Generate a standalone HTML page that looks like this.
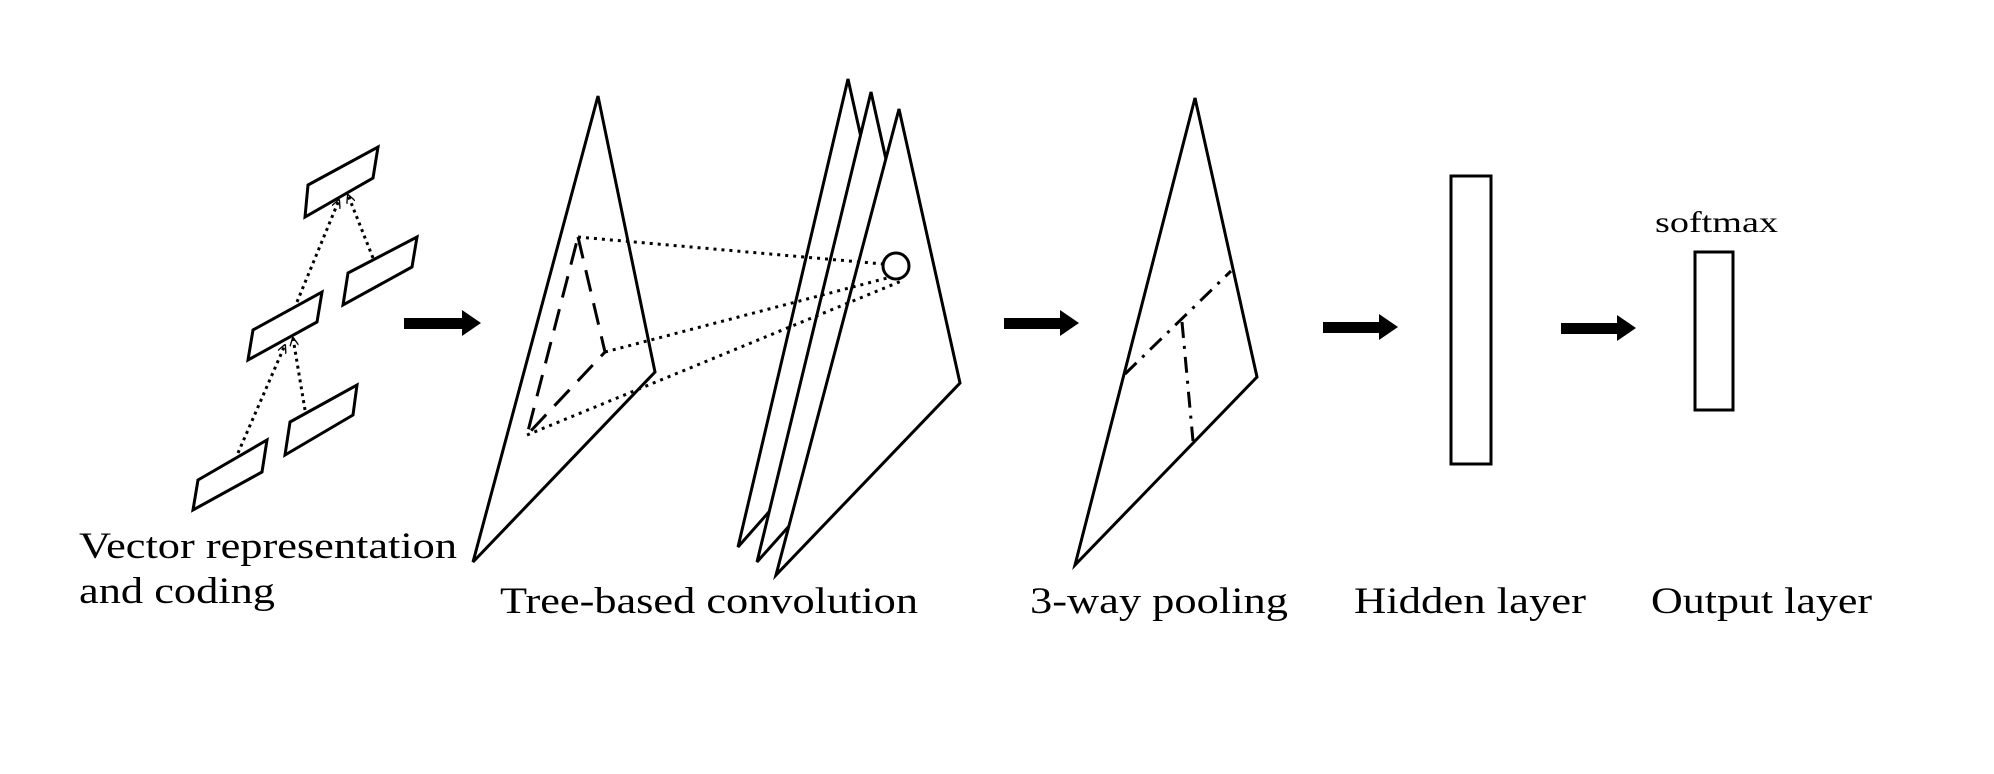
<!DOCTYPE html>
<html><head><style>html,body{margin:0;padding:0;background:#fff;}svg{display:block}</style></head>
<body>
<svg width="1994" height="774" viewBox="0 0 1994 774" xmlns="http://www.w3.org/2000/svg">
<defs>
<marker id="ah" viewBox="0 0 10 10" refX="9" refY="5" markerWidth="9" markerHeight="9" orient="auto" markerUnits="userSpaceOnUse">
<path d="M0,0 L10,5 L0,10" fill="none" stroke="#000" stroke-width="1.5"/>
</marker>
</defs>
<g fill="#fff" stroke="#000" stroke-width="3" stroke-linejoin="miter">
<polygon points="308,185 378,147 373,178 305,217"/>
<polygon points="348,273 417,237 412,267 343,305"/>
<polygon points="253,330 322,292 317,322 248,360"/>
<polygon points="290,422 357,385 353,415 285,455"/>
<polygon points="198,480 267,440 262,472 193,510"/>
</g>
<g stroke="#000" stroke-width="3" stroke-dasharray="3,4" fill="none" marker-end="url(#ah)">
<line x1="238" y1="453" x2="285" y2="345"/>
<line x1="305" y1="410" x2="293" y2="338"/>
<line x1="297" y1="302" x2="339" y2="200"/>
<line x1="373" y1="258" x2="348" y2="195"/>
</g>
<g fill="#000">
<rect x="404" y="318" width="59" height="11"/><polygon points="462,310 481,323 462,336"/>
</g>
<polygon points="598,96 655,372 473,562" fill="none" stroke="#000" stroke-width="3"/>
<polyline points="578,237 605,352 527,435 578,237" fill="none" stroke="#000" stroke-width="3" stroke-dasharray="22,12"/>
<g transform="translate(-6,0)">
<g fill="#000">
<rect x="1010" y="318" width="57" height="11"/><polygon points="1066,310 1085,323 1066,336"/>
<rect x="1329" y="322" width="57" height="11"/><polygon points="1385,314 1404,327 1385,340"/>
<rect x="1567" y="323" width="57" height="11"/><polygon points="1623,315 1642,328 1623,341"/>
</g>
<g fill="#fff" stroke="#000" stroke-width="3">
<polygon points="854,79 915,353 744,547"/>
<polygon points="877,92 938,366 763,562"/>
<polygon points="905,109 966,383 782,575"/>
</g>
</g>
<g stroke="#000" stroke-width="3" stroke-dasharray="3,5" fill="none">
<line x1="578" y1="237" x2="883" y2="264"/>
<line x1="605" y1="352" x2="891" y2="277"/>
<line x1="527" y1="435" x2="904" y2="280"/>
</g>
<g transform="translate(-6,0)">
<circle cx="902" cy="266" r="13" fill="#fff" stroke="#000" stroke-width="3"/>
<polygon points="1201,98 1263,377 1081,565" fill="none" stroke="#000" stroke-width="3"/>
<g stroke="#000" stroke-width="3" stroke-dasharray="16,8,3,8" fill="none">
<line x1="1131" y1="374" x2="1237" y2="271"/>
<line x1="1188" y1="322" x2="1199" y2="441"/>
</g>
<rect x="1457" y="176" width="40" height="288" fill="none" stroke="#000" stroke-width="3"/>
<rect x="1701" y="252" width="38" height="158" fill="none" stroke="#000" stroke-width="3"/>
</g>
<g font-family="Liberation Serif, serif" font-size="37" fill="#000">
<text x="1655" y="232" font-size="30" textLength="123" lengthAdjust="spacingAndGlyphs">softmax</text>
<text x="79" y="558" textLength="378" lengthAdjust="spacingAndGlyphs">Vector representation</text>
<text x="79" y="603" textLength="196" lengthAdjust="spacingAndGlyphs">and coding</text>
<text x="500" y="613" textLength="418" lengthAdjust="spacingAndGlyphs">Tree-based convolution</text>
<text x="1030" y="613" textLength="258" lengthAdjust="spacingAndGlyphs">3-way pooling</text>
<text x="1354" y="613" textLength="232" lengthAdjust="spacingAndGlyphs">Hidden layer</text>
<text x="1651" y="613" textLength="221" lengthAdjust="spacingAndGlyphs">Output layer</text>
</g>
</svg>
</body></html>
